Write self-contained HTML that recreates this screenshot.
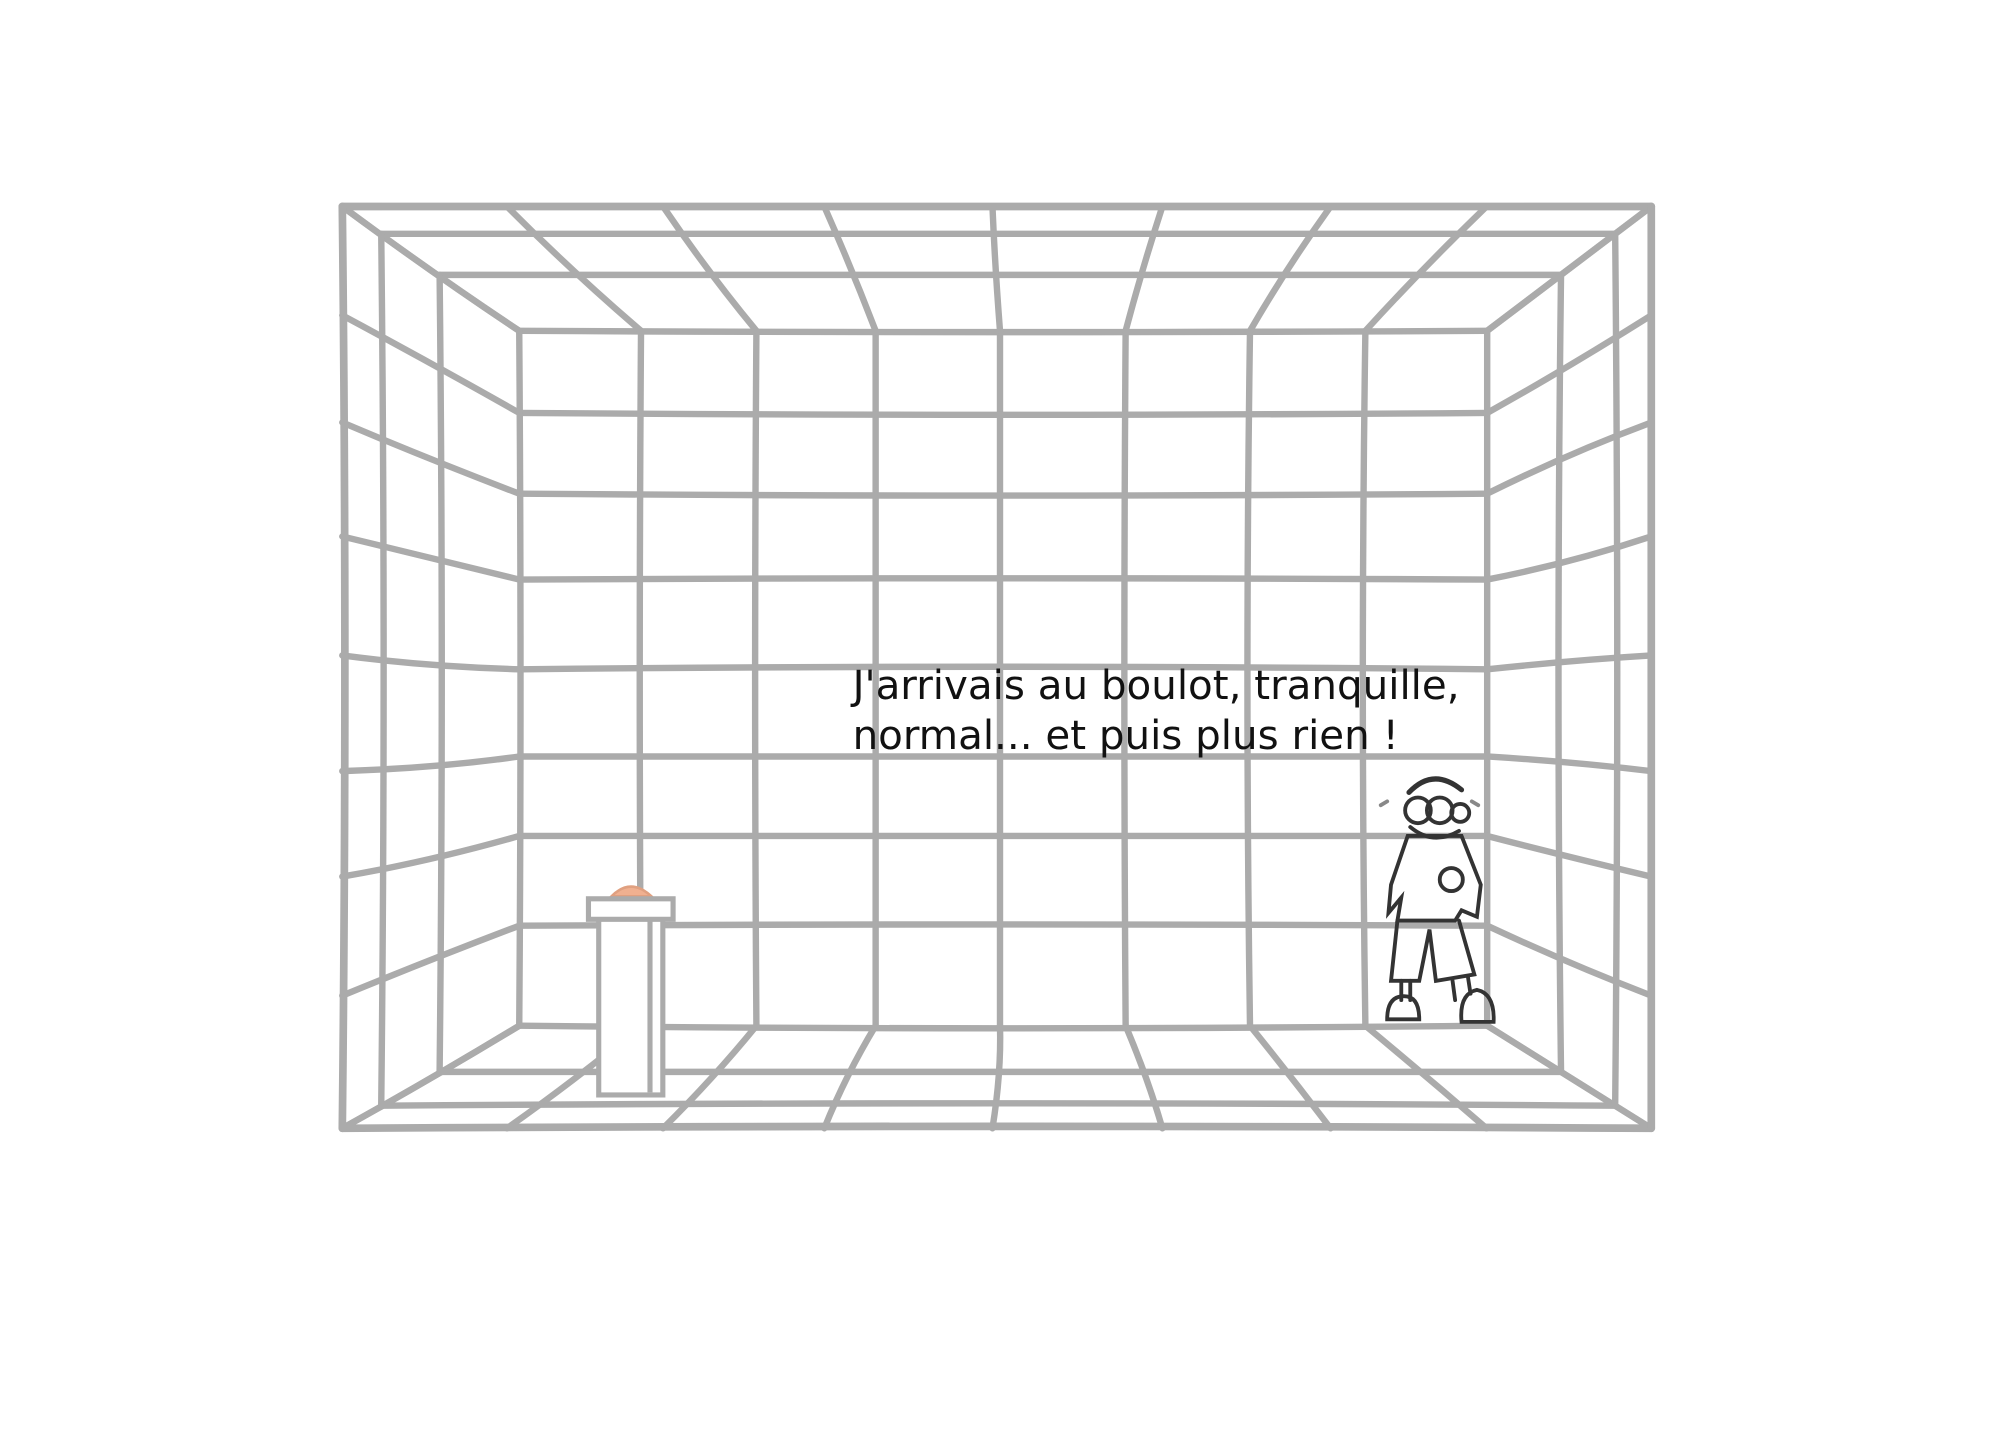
<!DOCTYPE html>
<html><head><meta charset="utf-8"><style>
html,body{margin:0;padding:0;background:#fff;width:2000px;height:1454px;overflow:hidden}
svg{display:block}
</style></head><body>
<svg id="s" width="2000" height="1454" viewBox="0 0 1560 1134">
<g id="room" fill="none" stroke="#ababab" stroke-width="5" stroke-linecap="round"></g>
<g fill="#fff" stroke="#ababab" stroke-width="4">
<rect x="467" y="714" width="50" height="140"/>
<path d="M477 699 Q492 684 508 699 Z" fill="#f0b090" stroke="#e0a080" stroke-width="2"/>
<rect x="459" y="701" width="66" height="16"/>
<line x1="507" y1="718" x2="507" y2="852"/>
</g>
<g fill="none" stroke="#333" stroke-width="3" stroke-linecap="round">
<path d="M1099 618 Q1118 598 1140 616" stroke-width="4"/>
<circle cx="1106" cy="632" r="10"/><circle cx="1123" cy="632" r="10"/><circle cx="1139" cy="634" r="7"/>
<path d="M1100 645 Q1118 660 1138 648"/>
<path d="M1085 690 L1098 652 L1140 652 L1155 690 L1152 715 L1140 710 L1135 718 L1090 718 L1093 700 L1083 712 Z"/>
<circle cx="1132" cy="686" r="9"/>
<path d="M1090 718 L1085 765 L1107 765 L1115 725 L1120 765 L1150 760 L1138 718"/>
<path d="M1093 765 L1093 780 M1100 765 L1100 780 M1133 765 L1135 780 M1145 762 L1147 775"/>
<path d="M1082 795 Q1082 777 1095 777 Q1107 777 1107 795 Z"/>
<path d="M1140 797 Q1138 775 1152 772 Q1166 775 1165 797 Z"/>
<path d="M1077 628 l5 -3 M1148 625 l5 3" stroke="#888"/>
</g>
<g font-family="'DejaVu Sans','Liberation Sans',sans-serif" font-size="31.5" fill="#111">
<text x="665" y="545">J'arrivais au boulot, tranquille,</text>
<text x="665" y="584">normal... et puis plus rien !</text>
</g>
</svg>
<script>
const backCols=[405,500,590,683,780,878,975,1065,1160];
const backRows=[258,322,385,452,522,590,652,722,800];
const outer={x0:267,y0:161,x1:1288,y1:880};
const inner={x0:405,y0:258,x1:1160,y1:800};
const g=document.getElementById('room');
const NS='http://www.w3.org/2000/svg';
function L(x1,y1,x2,y2,name,w){
  const l=document.createElementNS(NS,'path');
  const mx=(x1+x2)/2+((y1*7+x1)%9-4), my=(y1+y2)/2+((x1*5+y2)%9-4);
  l.setAttribute('d',`M${x1} ${y1} Q${mx} ${my} ${x2} ${y2}`);
  if(w)l.setAttribute('stroke-width',w);
  
  
  g.appendChild(l);
}
function lerp(a,b,t){return a+(b-a)*t}
function ox(x){return outer.x0+(x-inner.x0)/(inner.x1-inner.x0)*(outer.x1-outer.x0)}
function oy(y){return outer.y0+(y-inner.y0)/(inner.y1-inner.y0)*(outer.y1-outer.y0)}
backCols.forEach(x=>L(x,inner.y0,x,inner.y1,'back-wall-column'));
backRows.forEach(y=>L(inner.x0,y,inner.x1,y,'back-wall-row'));
backCols.forEach(x=>{L(x,inner.y0,ox(x),outer.y0,'ceiling-line');L(x,inner.y1,ox(x),outer.y1,'floor-line');});
backRows.forEach(y=>{L(inner.x0,y,outer.x0,oy(y),'left-wall-line');L(inner.x1,y,outer.x1,oy(y),'right-wall-line');});
[0.45,0.78].forEach(t=>{
  const x0=lerp(inner.x0,outer.x0,t),x1=lerp(inner.x1,outer.x1,t),y0=lerp(inner.y0,outer.y0,t),y1=lerp(inner.y1,outer.y1,t);
  L(x0,y0,x1,y0,'ceiling-ring');L(x0,y1,x1,y1,'floor-ring');L(x0,y0,x0,y1,'left-ring');L(x1,y0,x1,y1,'right-ring');
});
L(outer.x0,outer.y0,outer.x1,outer.y0,'outer-top',6);L(outer.x0,outer.y1,outer.x1,outer.y1,'outer-bottom',6);
L(outer.x0,outer.y0,outer.x0,outer.y1,'outer-left',6);L(outer.x1,outer.y0,outer.x1,outer.y1,'outer-right',6);
</script>
</body></html>
